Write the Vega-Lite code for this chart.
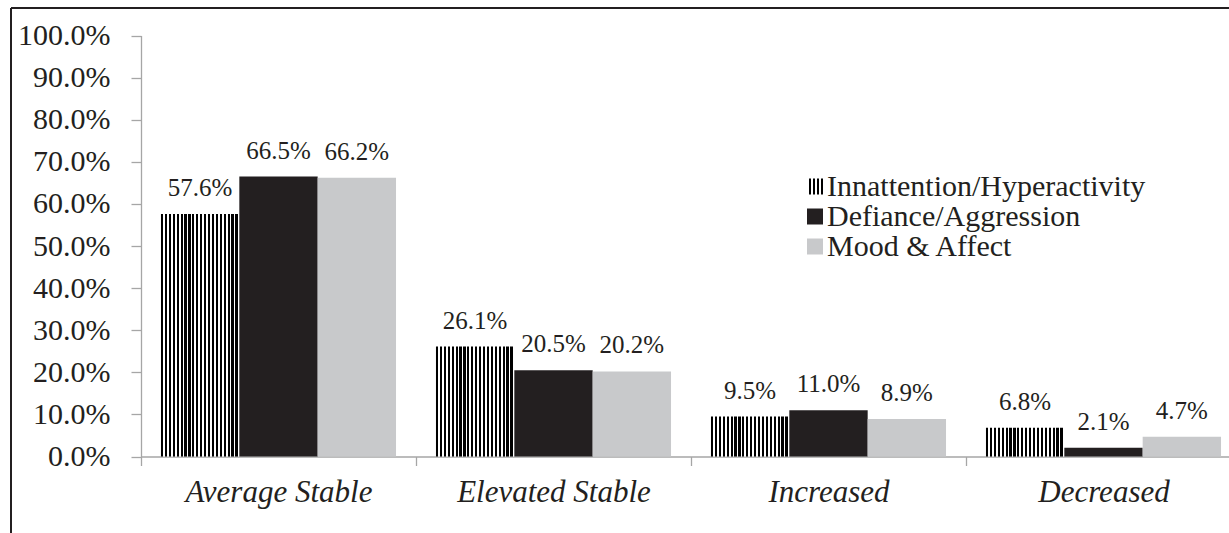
{
  "$schema": "https://vega.github.io/schema/vega-lite/v6.json",
  "width": 1218,
  "height": 525,
  "autosize": {"type": "none"},
  "padding": {"left": 11, "top": 8, "right": 0, "bottom": 0},
  "background": "white",
  "config": {
    "view": {"stroke": "#231f20", "strokeWidth": 2, "strokeDash": [1218, 1743, 525, 0]},
    "font": "Liberation Serif",
    "text": {"font": "Liberation Serif"}
  },
  "data": {
    "values": [
      {"category": "Average Stable", "series": "Innattention/Hyperactivity", "value": 0.576},
      {"category": "Average Stable", "series": "Defiance/Aggression", "value": 0.665},
      {"category": "Average Stable", "series": "Mood & Affect", "value": 0.662},
      {"category": "Elevated Stable", "series": "Innattention/Hyperactivity", "value": 0.261},
      {"category": "Elevated Stable", "series": "Defiance/Aggression", "value": 0.205},
      {"category": "Elevated Stable", "series": "Mood & Affect", "value": 0.202},
      {"category": "Increased", "series": "Innattention/Hyperactivity", "value": 0.095},
      {"category": "Increased", "series": "Defiance/Aggression", "value": 0.110},
      {"category": "Increased", "series": "Mood & Affect", "value": 0.089},
      {"category": "Decreased", "series": "Innattention/Hyperactivity", "value": 0.068},
      {"category": "Decreased", "series": "Defiance/Aggression", "value": 0.021},
      {"category": "Decreased", "series": "Mood & Affect", "value": 0.047}
    ]
  },
  "encoding": {
    "x": {
      "field": "category",
      "type": "nominal",
      "sort": ["Average Stable", "Elevated Stable", "Increased", "Decreased"],
      "scale": {"range": [130, 1230], "paddingInner": 0, "paddingOuter": 0},
      "axis": {
        "title": null,
        "labelAngle": 0,
        "labelLimit": 0,
        "labelFont": "Liberation Serif",
        "labelFontSize": 31,
        "labelFontStyle": "italic",
        "labelColor": "#231f20",
        "labelBaseline": "alphabetic",
        "labelPadding": 36,
        "tickSize": 9,
        "tickBand": "extent",
        "tickColor": "#a6a6a6",
        "tickWidth": 1.3,
        "domainColor": "#a6a6a6",
        "domainWidth": 1.3,
        "offset": -76.5
      }
    },
    "xOffset": {
      "field": "series",
      "sort": ["Innattention/Hyperactivity", "Defiance/Aggression", "Mood & Affect"],
      "scale": {"paddingOuter": 0.255, "paddingInner": 0}
    },
    "y": {
      "field": "value",
      "type": "quantitative",
      "scale": {"domain": [0, 1], "range": [448.5, 27.5]},
      "axis": {
        "title": null,
        "values": [0, 0.1, 0.2, 0.3, 0.4, 0.5, 0.6, 0.7, 0.8, 0.9, 1],
        "format": ".1%",
        "grid": false,
        "labelFont": "Liberation Serif",
        "labelFontSize": 30,
        "labelColor": "#231f20",
        "labelPadding": 21,
        "tickSize": 10,
        "tickColor": "#a6a6a6",
        "tickWidth": 1.3,
        "domainColor": "#a6a6a6",
        "domainWidth": 1.3,
        "offset": -130
      }
    }
  },
  "layer": [
    {
      "mark": {"type": "bar"},
      "encoding": {
        "color": {
          "field": "series",
          "type": "nominal",
          "sort": ["Innattention/Hyperactivity", "Defiance/Aggression", "Mood & Affect"],
          "scale": {
            "domain": ["Innattention/Hyperactivity", "Defiance/Aggression", "Mood & Affect"],
            "range": [
              {"expr": "{gradient:'linear',x1:0,y1:0,x2:1,y2:0,stops:[{offset:0,color:'#000'},{offset:0.0275,color:'#000'},{offset:0.0275,color:'#fff'},{offset:0.05,color:'#fff'},{offset:0.05,color:'#000'},{offset:0.0775,color:'#000'},{offset:0.0775,color:'#fff'},{offset:0.1,color:'#fff'},{offset:0.1,color:'#000'},{offset:0.1275,color:'#000'},{offset:0.1275,color:'#fff'},{offset:0.15,color:'#fff'},{offset:0.15,color:'#000'},{offset:0.1775,color:'#000'},{offset:0.1775,color:'#fff'},{offset:0.2,color:'#fff'},{offset:0.2,color:'#000'},{offset:0.2275,color:'#000'},{offset:0.2275,color:'#fff'},{offset:0.25,color:'#fff'},{offset:0.25,color:'#000'},{offset:0.2775,color:'#000'},{offset:0.2775,color:'#fff'},{offset:0.3,color:'#fff'},{offset:0.3,color:'#000'},{offset:0.3275,color:'#000'},{offset:0.3275,color:'#fff'},{offset:0.35,color:'#fff'},{offset:0.35,color:'#000'},{offset:0.3775,color:'#000'},{offset:0.3775,color:'#fff'},{offset:0.4,color:'#fff'},{offset:0.4,color:'#000'},{offset:0.4275,color:'#000'},{offset:0.4275,color:'#fff'},{offset:0.45,color:'#fff'},{offset:0.45,color:'#000'},{offset:0.4775,color:'#000'},{offset:0.4775,color:'#fff'},{offset:0.5,color:'#fff'},{offset:0.5,color:'#000'},{offset:0.5275,color:'#000'},{offset:0.5275,color:'#fff'},{offset:0.55,color:'#fff'},{offset:0.55,color:'#000'},{offset:0.5775,color:'#000'},{offset:0.5775,color:'#fff'},{offset:0.6,color:'#fff'},{offset:0.6,color:'#000'},{offset:0.6275,color:'#000'},{offset:0.6275,color:'#fff'},{offset:0.65,color:'#fff'},{offset:0.65,color:'#000'},{offset:0.6775,color:'#000'},{offset:0.6775,color:'#fff'},{offset:0.7,color:'#fff'},{offset:0.7,color:'#000'},{offset:0.7275,color:'#000'},{offset:0.7275,color:'#fff'},{offset:0.75,color:'#fff'},{offset:0.75,color:'#000'},{offset:0.7775,color:'#000'},{offset:0.7775,color:'#fff'},{offset:0.8,color:'#fff'},{offset:0.8,color:'#000'},{offset:0.8275,color:'#000'},{offset:0.8275,color:'#fff'},{offset:0.85,color:'#fff'},{offset:0.85,color:'#000'},{offset:0.8775,color:'#000'},{offset:0.8775,color:'#fff'},{offset:0.9,color:'#fff'},{offset:0.9,color:'#000'},{offset:0.9275,color:'#000'},{offset:0.9275,color:'#fff'},{offset:0.95,color:'#fff'},{offset:0.95,color:'#000'},{offset:0.9775,color:'#000'},{offset:0.9775,color:'#fff'},{offset:1,color:'#fff'}]}"},
              "#231f20",
              "#c8c9cb"
            ]
          },
          "legend": {
            "title": null,
            "orient": "none",
            "legendX": 789,
            "legendY": 163.5,
            "padding": 0,
            "symbolType": "square",
            "symbolSize": 256,
            "symbolStrokeWidth": 0,
            "labelLimit": 0,
            "labelFont": "Liberation Serif",
            "labelFontSize": 30,
            "labelColor": "#231f20",
            "labelOffset": -3,
            "rowPadding": 0,
            "encode": {
              "symbols": {
                "update": {
                  "fill": {"signal": "datum.value === 'Innattention/Hyperactivity' ? {gradient:'linear',x1:0,y1:0,x2:1,y2:0,stops:[{offset:0,color:'#000'},{offset:0.11,color:'#000'},{offset:0.11,color:'#fff'},{offset:0.2,color:'#fff'},{offset:0.2,color:'#000'},{offset:0.31,color:'#000'},{offset:0.31,color:'#fff'},{offset:0.4,color:'#fff'},{offset:0.4,color:'#000'},{offset:0.51,color:'#000'},{offset:0.51,color:'#fff'},{offset:0.6,color:'#fff'},{offset:0.6,color:'#000'},{offset:0.71,color:'#000'},{offset:0.71,color:'#fff'},{offset:0.8,color:'#fff'},{offset:0.8,color:'#000'},{offset:0.91,color:'#000'},{offset:0.91,color:'#fff'},{offset:1,color:'#fff'}]} : scale('color', datum.value)"}
                }
              }
            }
          }
        }
      }
    },
    {
      "mark": {"type": "text", "baseline": "alphabetic", "dy": -18, "fontSize": 25, "font": "Liberation Serif", "color": "#231f20"},
      "encoding": {
        "text": {"field": "value", "type": "quantitative", "format": ".1%"}
      }
    }
  ]
}
